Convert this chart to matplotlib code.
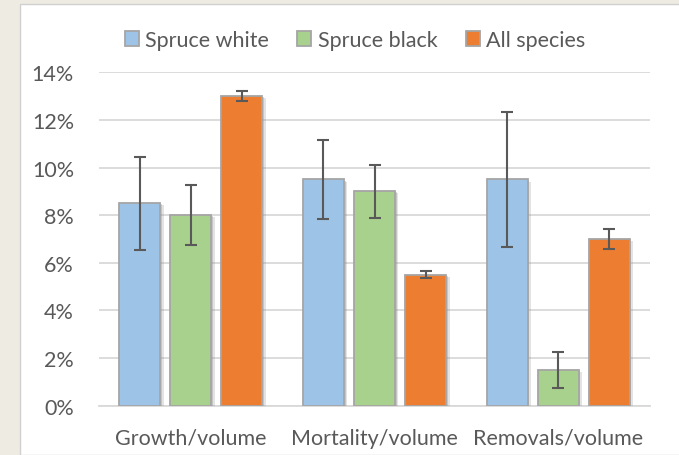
import matplotlib
matplotlib.use("Agg")
import matplotlib.pyplot as plt
import matplotlib.patheffects as pe
from matplotlib.patches import Rectangle
from matplotlib.ticker import FuncFormatter
import numpy as np

categories = ["Growth/volume", "Mortality/volume", "Removals/volume"]
series_names = ["Spruce white", "Spruce black", "All species"]
spruce_white = [8.5, 9.5, 9.5]
spruce_white_err = [1.95, 1.65, 2.85]
spruce_black = [8.0, 9.0, 1.5]
spruce_black_err = [1.25, 1.1, 0.75]
all_species = [13.0, 5.5, 7.0]
all_species_err = [0.2, 0.15, 0.4]
y_ticks = [0, 2, 4, 6, 8, 10, 12, 14]

colors = ["#9DC3E6", "#A9D18E", "#ED7D31"]
text_color = "#595959"
plt.rcParams['font.family'] = ['Lato', 'DejaVu Sans']
fs = 15.5

fig = plt.figure(figsize=(6.79, 4.56), dpi=100, facecolor="#EEECE2")
fig.patches.append(Rectangle((20/679, 0), 1, 1 - 5/456, transform=fig.transFigure,
                             facecolor="white", edgecolor="#D0D0D0", lw=1, zorder=-10))
ax = fig.add_axes([99/679, 1 - 406.7/456, (650 - 99)/679, (406.7 - 73.3)/456])
ax.set_facecolor("none")
ax.set_zorder(5)

x = np.arange(len(categories))
width = 0.223
offset = 0.278
data = [(spruce_white, spruce_white_err), (spruce_black, spruce_black_err), (all_species, all_species_err)]
shadow = [pe.SimplePatchShadow(offset=(2.5, -1.5), shadow_rgbFace="#909090", alpha=0.25),
          pe.SimplePatchShadow(offset=(1.2, -0.8), shadow_rgbFace="#808080", alpha=0.3),
          pe.Normal()]
for i, (vals, errs) in enumerate(data):
    pos = x + (i - 1) * offset
    bars = ax.bar(pos, vals, width, color=colors[i], edgecolor="#A5A5A5", linewidth=1.3,
                  label=series_names[i], zorder=3)
    for b in bars:
        b.set_path_effects(shadow)
    ax.errorbar(pos, vals, yerr=errs, fmt="none", ecolor="#595959", elinewidth=1.5,
                capsize=4.5, capthick=1.5, zorder=4)

ax.set_xlim(-0.5, 2.5)
ax.set_ylim(0, 14)
ax.set_yticks(y_ticks)
ax.yaxis.set_major_formatter(FuncFormatter(lambda v, p: f"{int(v)}%"))
ax.set_xticks(x)
ax.set_xticklabels(categories)
ax.grid(axis="y", color="#D9D9D9", linewidth=1.3, zorder=0)
ax.set_axisbelow(True)
for s in ["top", "right", "left"]:
    ax.spines[s].set_visible(False)
ax.spines["bottom"].set_color("#D9D9D9")
ax.spines["bottom"].set_linewidth(1.3)
ax.tick_params(axis="both", length=0, labelsize=fs, colors=text_color)
ax.tick_params(axis="y", pad=18)
ax.tick_params(axis="x", pad=16)

leg = ax.legend(loc="center", bbox_to_anchor=(355/679, 1 - 41/456), bbox_transform=fig.transFigure,
                ncol=3, frameon=False, fontsize=fs, handlelength=0.66, handleheight=0.66,
                handletextpad=0.3, columnspacing=1.3)
for t in leg.get_texts():
    t.set_color(text_color)
for h in leg.legend_handles:
    h.set_path_effects([])

fig.savefig("out.png", dpi=100, facecolor=fig.get_facecolor())
